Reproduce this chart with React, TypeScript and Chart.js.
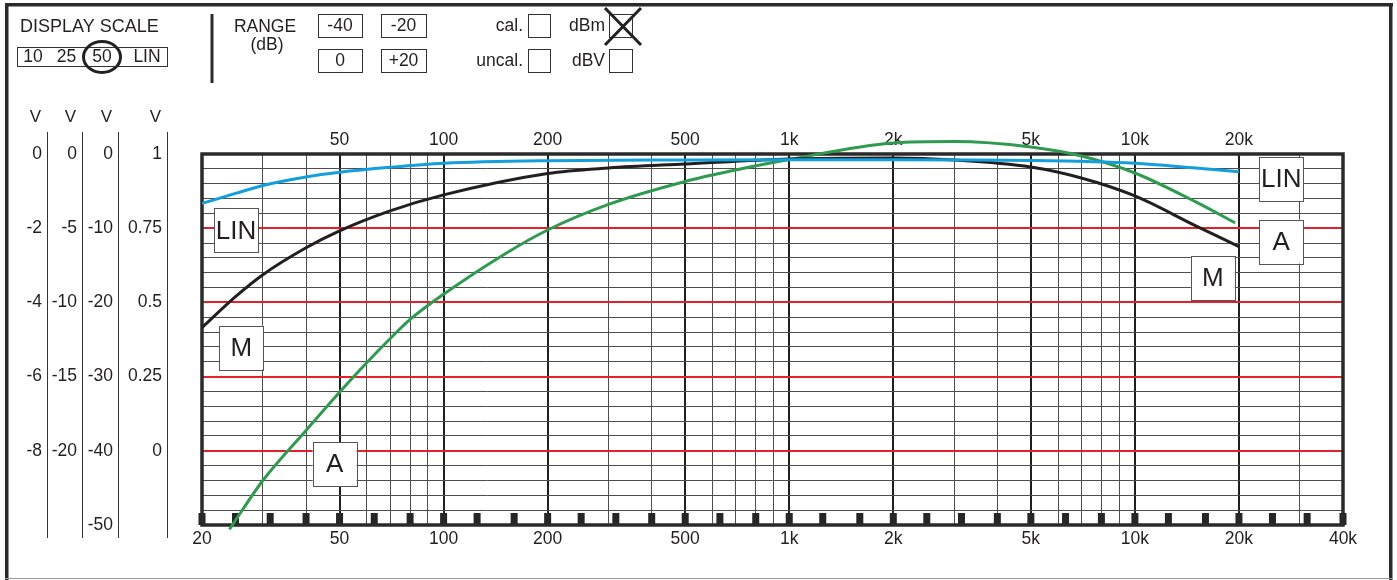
import React, { useEffect, useRef } from 'react';
import { Chart, registerables } from 'chart.js';

Chart.register(...registerables);

// ---------- data ----------
const gridFreqs = [20, 30, 40, 50, 60, 70, 80, 90, 100, 200, 300, 400, 500, 600, 700, 800, 900, 1000, 2000, 3000, 4000, 5000, 6000, 7000, 8000, 9000, 10000, 20000, 30000, 40000];
const majorFreqs = [50, 100, 200, 500, 1000, 2000, 5000, 10000, 20000];
const bottomLabelFreqs = [20, 50, 100, 200, 500, 1000, 2000, 5000, 10000, 20000, 40000];
const topLabelFreqs = [50, 100, 200, 500, 1000, 2000, 5000, 10000, 20000];
const bandFreqs = [20, 25, 31.5, 40, 50, 63, 80, 100, 125, 160, 200, 250, 315, 400, 500, 630, 800, 1000, 1250, 1600, 2000, 2500, 3150, 4000, 5000, 6300, 8000, 10000, 12500, 16000, 20000, 25000, 31500, 40000];

const dbGridTicks = [0, -2, -4, -6, -8, -10, -12, -14, -16, -18, -20, -22, -24, -26, -28, -30, -32, -34, -36, -38, -40, -42, -44, -46, -48, -50];
const redDb = [-10, -20, -30, -40];
const scale10Ticks = [0, -2, -4, -6, -8];
const scale25Ticks = [0, -5, -10, -15, -20];
const scale50Ticks = [0, -10, -20, -30, -40, -50];
const linTicks = [1, 0.75, 0.5, 0.25, 0];

const linFreq = [20, 25, 30, 40, 50, 70, 100, 200, 500, 1000, 2000, 5000, 10000, 15000, 20000];
const linDb = [-6.66, -5.31, -4.24, -3.09, -2.46, -1.79, -1.25, -0.9, -0.81, -0.78, -0.78, -0.87, -1.25, -1.9, -2.38];

const mFreq = [20, 25, 30, 40, 50, 70, 100, 200, 300, 500, 1000, 2000, 3000, 5000, 7000, 10000, 15000, 20000];
const mDb = [-23.4, -19.23, -16.27, -12.64, -10.36, -7.67, -5.51, -2.62, -1.88, -1.35, -0.67, -0.54, -0.81, -1.75, -3.23, -5.65, -9.68, -12.47];

const aFreq = [24, 30, 40, 50, 60, 70, 80, 100, 150, 200, 300, 500, 700, 1000, 2000, 3000, 5000, 7000, 10000, 15000, 19500];
const aDb = [-50.6, -44.0, -37.25, -32.1, -28.1, -24.9, -22.3, -18.9, -13.5, -10.24, -6.79, -3.7, -2.15, -0.74, 1.48, 1.68, 0.94, -0.27, -2.56, -6.46, -9.28];

const curveLabels = ['LIN', 'M', 'A', 'LIN', 'A', 'M'];
const curveLabelFreq = [25.1, 26.0, 48.4, 26500, 26500, 16800];
const curveLabelDb = [-10.3, -26.1, -41.8, -3.36, -11.8, -16.7];

const displayScaleTitle = 'DISPLAY SCALE';
const displayScaleOptions = ['10', '25', '50', 'LIN'];
const rangeTitle = ['RANGE', '(dB)'];
const rangeOptions = ['-40', '-20', '0', '+20'];
const calOptions = ['cal.', 'uncal.'];
const unitOptions = ['dBm', 'dBV'];
const columnUnit = 'V';

// ---------- styling ----------
const FONT = "'Liberation Sans', Arial, Helvetica, sans-serif";
const TEXT = '#231f20';
const INK = '#262626';

const fmtFreq = (v: number) => (v >= 1000 ? `${v / 1000}k` : String(v));

function setTicks(values: number[]) {
  return (scale: any) => {
    scale.ticks = values.map((v) => ({ value: v }));
  };
}

const panelPlugin = {
  id: 'panel',
  beforeDatasetsDraw(chart: any) {
    const ctx = chart.ctx as CanvasRenderingContext2D;
    const { left, right, top, bottom } = chart.chartArea;
    const xs = chart.scales.x;
    ctx.save();
    ctx.fillStyle = INK;
    for (const f of bandFreqs) {
      const px = xs.getPixelForValue(f);
      ctx.fillRect(px - 3.5, bottom - 12, 7, 12);
    }
    ctx.strokeStyle = '#2a2a2a';
    ctx.lineWidth = 3.5;
    ctx.strokeRect(left, top, right - left, bottom - top);
    ctx.restore();
  },
  afterDatasetsDraw(chart: any) {
    const ctx = chart.ctx as CanvasRenderingContext2D;
    const xs = chart.scales.x;
    const ys = chart.scales.y;
    ctx.save();
    ctx.font = `26px ${FONT}`;
    ctx.textAlign = 'center';
    ctx.textBaseline = 'middle';
    curveLabels.forEach((t, i) => {
      const cx = xs.getPixelForValue(curveLabelFreq[i]);
      const cy = ys.getPixelForValue(curveLabelDb[i]);
      ctx.fillStyle = '#fff';
      ctx.fillRect(cx - 22, cy - 22, 44, 44);
      ctx.strokeStyle = '#555';
      ctx.lineWidth = 1;
      ctx.strokeRect(Math.round(cx - 22) + 0.5, Math.round(cy - 22) + 0.5, 44, 44);
      ctx.fillStyle = TEXT;
      ctx.fillText(t, cx, cy + 1);
    });
    ctx.restore();
  },
  afterDraw(chart: any) {
    const ctx = chart.ctx as CanvasRenderingContext2D;
    ctx.save();
    // outer frame
    ctx.fillStyle = '#2b2b2b';
    ctx.fillRect(5, 3, 3.5, 577);
    ctx.fillRect(5, 3, 1388, 3.5);
    ctx.fillRect(1389, 3, 3.5, 577);
    ctx.fillStyle = '#9a9a9a';
    ctx.fillRect(5, 578, 1388, 1);

    // left columns
    const cols = [chart.scales.y10, chart.scales.y25, chart.scales.y, chart.scales.ylin];
    ctx.font = `17px ${FONT}`;
    ctx.textAlign = 'center';
    ctx.textBaseline = 'middle';
    for (const s of cols) {
      const lx = Math.round(s.right - s.options.ticks.padding + 5) + 0.5;
      ctx.strokeStyle = '#333';
      ctx.lineWidth = 1;
      ctx.beginPath();
      ctx.moveTo(lx, 132);
      ctx.lineTo(lx, 538);
      ctx.stroke();
      ctx.fillStyle = TEXT;
      ctx.fillText(columnUnit, lx - 12, 117);
    }

    // header: display scale
    ctx.fillStyle = TEXT;
    ctx.font = `18px ${FONT}`;
    ctx.textAlign = 'left';
    ctx.fillText(displayScaleTitle, 20, 27);
    ctx.font = `17.5px ${FONT}`;
    ctx.strokeStyle = '#333';
    ctx.lineWidth = 1;
    ctx.strokeRect(17.5, 47.5, 150, 19);
    const dsX = [33, 66.5, 102, 147];
    ctx.textAlign = 'center';
    displayScaleOptions.forEach((t, i) => ctx.fillText(t, dsX[i], 57.5));
    ctx.lineWidth = 3;
    ctx.strokeStyle = '#222';
    ctx.beginPath();
    ctx.ellipse(102, 57, 18.5, 15.5, 0, 0, Math.PI * 2);
    ctx.stroke();

    // divider
    ctx.fillStyle = '#2b2b2b';
    ctx.fillRect(210.5, 14, 3, 69);

    // range
    ctx.fillStyle = TEXT;
    ctx.fillText(rangeTitle[0], 265, 27);
    ctx.fillText(rangeTitle[1], 267, 45);
    const rBoxes = [
      [318, 14, 44, 23],
      [381, 14, 45, 23],
      [318, 49, 44, 23],
      [381, 49, 45, 23],
    ];
    ctx.lineWidth = 1;
    ctx.strokeStyle = '#333';
    rangeOptions.forEach((t, i) => {
      const [bx, by, bw, bh] = rBoxes[i];
      ctx.strokeRect(bx + 0.5, by + 0.5, bw, bh);
      ctx.fillText(t, bx + bw / 2, by + bh / 2 + 1);
    });

    // cal / unit checkboxes
    ctx.textAlign = 'right';
    const rowsY = [14, 49];
    calOptions.forEach((t, i) => {
      ctx.fillText(t, 523, rowsY[i] + 12);
      ctx.strokeRect(528.5, rowsY[i] + 0.5, 22, 23);
    });
    unitOptions.forEach((t, i) => {
      ctx.fillText(t, 605, rowsY[i] + 12);
      ctx.strokeRect(609.5, rowsY[i] + 0.5, 23, 23);
    });
    // X mark on dBm
    ctx.lineWidth = 3;
    ctx.strokeStyle = '#222';
    ctx.beginPath();
    ctx.moveTo(605, 8);
    ctx.lineTo(641, 45);
    ctx.moveTo(641, 8);
    ctx.lineTo(605, 45);
    ctx.stroke();
    ctx.restore();
  },
};

export default function App() {
  const ref = useRef<HTMLCanvasElement | null>(null);

  useEffect(() => {
    if (!ref.current) return;
    const tickFont = { family: FONT, size: 17.5 };
    const mk = (f: number[], d: number[]) => f.map((x, i) => ({ x, y: d[i] }));
    const lineDs = (data: any[], color: string) => ({
      data,
      borderColor: color,
      borderWidth: 3,
      pointRadius: 0,
      fill: false,
      cubicInterpolationMode: 'monotone' as const,
      clip: false as any,
      xAxisID: 'x',
      yAxisID: 'y',
    });
    const yCol = (weight: number, min: number, max: number, ticks: number[], width: number, padding: number) => ({
      type: 'linear' as const,
      axis: 'y' as const,
      position: 'left' as const,
      weight,
      min,
      max,
      afterBuildTicks: setTicks(ticks),
      afterFit: (s: any) => {
        s.width = width;
      },
      grid: { drawOnChartArea: false, drawTicks: false },
      border: { display: false },
      ticks: {
        autoSkip: false,
        padding,
        color: TEXT,
        font: tickFont,
        callback: (v: any) => String(v),
      },
    });

    const chart = new Chart(ref.current, {
      type: 'line',
      data: {
        datasets: [
          lineDs(mk(linFreq, linDb), '#129fdc'),
          lineDs(mk(mFreq, mDb), '#231f20'),
          lineDs(mk(aFreq, aDb), '#2f9a50'),
        ],
      },
      options: {
        responsive: false,
        devicePixelRatio: 1,
        animation: false,
        events: [],
        layout: { padding: { left: 8, right: 54, top: 0, bottom: 0 }, autoPadding: false },
        plugins: { legend: { display: false }, tooltip: { enabled: false }, title: { display: false } },
        scales: {
          x: {
            type: 'logarithmic',
            position: 'bottom',
            min: 20,
            max: 40000,
            afterBuildTicks: setTicks(gridFreqs),
            afterFit: (s: any) => {
              s.height = 55;
            },
            border: { display: false },
            grid: {
              drawTicks: false,
              color: (c: any) => (majorFreqs.includes(c.tick?.value) ? '#1f1f1f' : '#4d4d4d'),
              lineWidth: (c: any) => (majorFreqs.includes(c.tick?.value) ? 2 : 1),
            },
            ticks: {
              autoSkip: false,
              maxRotation: 0,
              padding: 4,
              color: TEXT,
              font: tickFont,
              callback: (v: any) => (bottomLabelFreqs.includes(Number(v)) ? fmtFreq(Number(v)) : ''),
            },
          },
          x2: {
            type: 'logarithmic',
            axis: 'x',
            position: 'top',
            min: 20,
            max: 40000,
            afterBuildTicks: setTicks(topLabelFreqs),
            afterFit: (s: any) => {
              s.height = 154;
            },
            border: { display: false },
            grid: { drawOnChartArea: false, drawTicks: false },
            ticks: {
              autoSkip: false,
              maxRotation: 0,
              padding: 3,
              color: TEXT,
              font: tickFont,
              callback: (v: any) => fmtFreq(Number(v)),
            },
          },
          ylin: yCol(0, -0.25, 1, linTicks, 84, 40),
          y: {
            ...yCol(1, -50, 0, dbGridTicks, 36, 5),
            grid: {
              drawOnChartArea: true,
              drawTicks: false,
              color: (c: any) => (redDb.includes(c.tick?.value) ? '#e3212a' : '#4d4d4d'),
              lineWidth: (c: any) => (redDb.includes(c.tick?.value) ? 2 : 1),
            },
            ticks: {
              autoSkip: false,
              padding: 5,
              color: TEXT,
              font: tickFont,
              callback: (v: any) => (scale50Ticks.includes(Number(v)) ? String(v) : ''),
            },
          },
          y25: yCol(2, -25, 0, scale25Ticks, 35, 5),
          y10: yCol(3, -10, 0, scale10Ticks, 39, 5),
        },
      },
      plugins: [panelPlugin],
    } as any);
    return () => chart.destroy();
  }, []);

  return (
    <div style={{ position: 'fixed', left: 0, top: 0, width: 1397, height: 580, background: '#fff' }}>
      <canvas ref={ref} width={1397} height={580} style={{ display: 'block' }} />
    </div>
  );
}
